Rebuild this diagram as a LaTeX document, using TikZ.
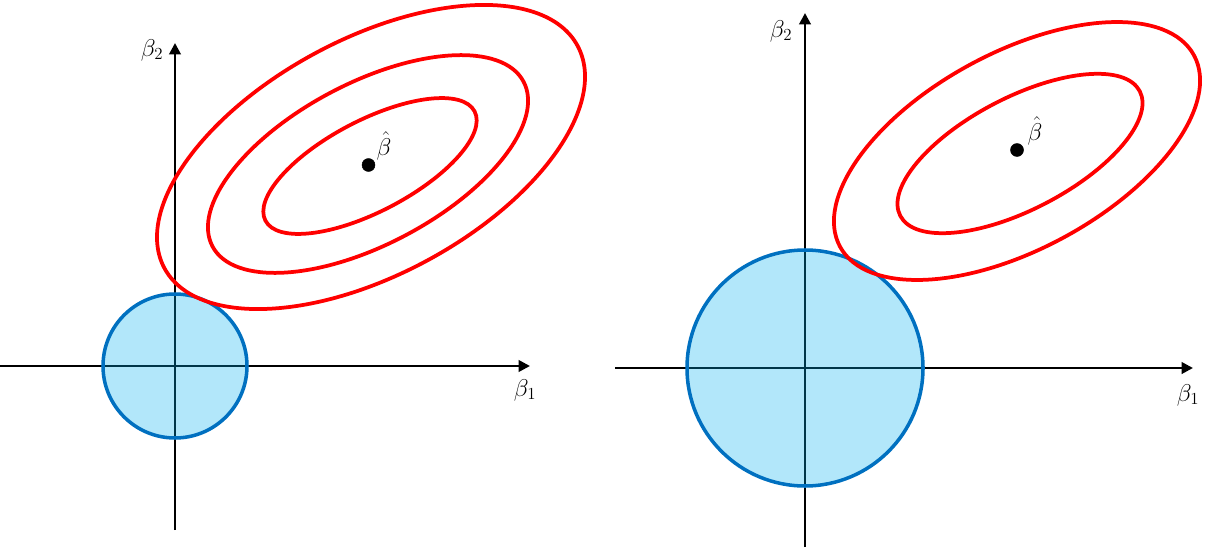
\documentclass[tikz,border=0pt]{standalone}
\usepackage{amsmath}
\usepackage{amssymb}
\usepackage{tikz}
\usetikzlibrary{arrows.meta}
\definecolor{RidgeBlue}{RGB}{0,112,192}
\definecolor{RidgeFill}{RGB}{0,176,240}
\definecolor{ContourRed}{RGB}{255,0,0}

\begin{document}
\begin{tikzpicture}[x=0.03cm,y=0.03cm,
    axis/.style={-{Triangle[length=0.34cm,width=0.34cm]}, line width=2.3pt, black},
    contour/.style={ContourRed, line width=3.2pt},
    ball/.style={RidgeBlue, line width=3pt, fill=RidgeFill, fill opacity=0.3, draw opacity=1},
    lbl/.style={font=\huge, inner sep=0pt}]
  \useasboundingbox (0,0) rectangle (1205,547);
  % left panel: small constraint
  \coordinate (O1) at (175,181);
  \coordinate (x1s) at (0,181);
  \coordinate (x1e) at (530,181);
  \coordinate (y1s) at (175,17);
  \coordinate (y1e) at (175,504);
  \draw[axis] (x1s) -- (x1e);
  \draw[axis] (y1s) -- (y1e);
  \draw[ball] (O1) circle (72);
  \draw[contour, rotate around={27.6:(370,381)}] (370,381) ellipse [x radius=118, y radius=45.5];
  \draw[contour, rotate around={27.9:(368,383)}] (368,383) ellipse [x radius=176, y radius=80.6];
  \draw[contour, rotate around={28.3:(371,390)}] (371,390) ellipse [x radius=234.6, y radius=117.8];
  \filldraw[black] (368.5,382) circle (6.5);
  \node[lbl] (b2L) at (152,497) {$\beta_2$};
  \node[lbl] (b1L) at (525,157) {$\beta_1$};
  \node[lbl] (bhL) at (384,401) {$\hat{\beta}$};
  % right panel: large constraint
  \coordinate (O2) at (805,179);
  \coordinate (x2s) at (615,179);
  \coordinate (x2e) at (1193,179);
  \coordinate (y2s) at (805,0);
  \coordinate (y2e) at (805,534);
  \draw[axis] (x2s) -- (x2e);
  \draw[axis] (y2s) -- (y2e);
  \draw[ball] (O2) circle (118);
  \draw[contour, rotate around={27.5:(1020,393.5)}] (1020,393.5) ellipse [x radius=135, y radius=56];
  \draw[contour, rotate around={28.4:(1017,396)}] (1017,396) ellipse [x radius=201.2, y radius=98.3];
  \filldraw[black] (1017,397) circle (6.5);
  \node[lbl] (b2R) at (781,516) {$\beta_2$};
  \node[lbl] (b1R) at (1188,152) {$\beta_1$};
  \node[lbl] (bhR) at (1035,416) {$\hat{\beta}$};
\end{tikzpicture}
\end{document}
